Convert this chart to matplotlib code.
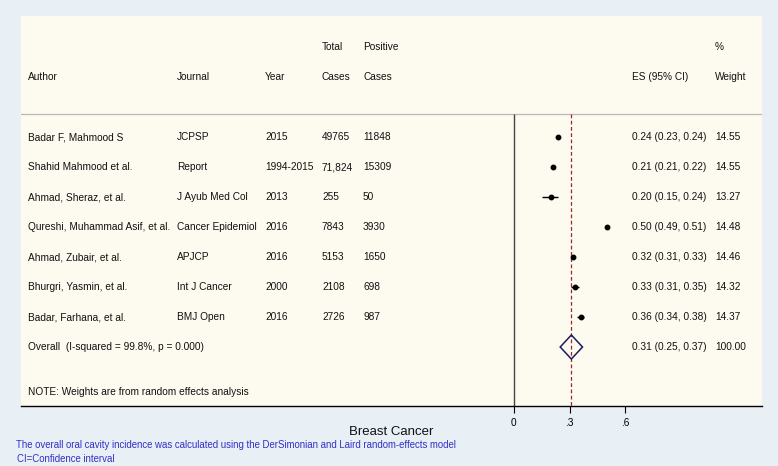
import matplotlib
matplotlib.use("Agg")
import matplotlib.pyplot as plt
from matplotlib.transforms import blended_transform_factory

plt.rcParams['font.family'] = ['Liberation Sans', 'DejaVu Sans']

authors = ["Badar F, Mahmood S", "Shahid Mahmood et al.", "Ahmad, Sheraz, et al.",
           "Qureshi, Muhammad Asif, et al.", "Ahmad, Zubair, et al.",
           "Bhurgri, Yasmin, et al.", "Badar, Farhana, et al."]
journals = ["JCPSP", "Report", "J Ayub Med Col", "Cancer Epidemiol", "APJCP",
            "Int J Cancer", "BMJ Open"]
years = ["2015", "1994-2015", "2013", "2016", "2016", "2000", "2016"]
total_cases = ["49765", "71,824", "255", "7843", "5153", "2108", "2726"]
positive_cases = ["11848", "15309", "50", "3930", "1650", "698", "987"]
es = [0.24, 0.21, 0.20, 0.50, 0.32, 0.33, 0.36]
ci_lo = [0.23, 0.21, 0.15, 0.49, 0.31, 0.31, 0.34]
ci_hi = [0.24, 0.22, 0.24, 0.51, 0.33, 0.35, 0.38]
weights = ["14.55", "14.55", "13.27", "14.48", "14.46", "14.32", "14.37"]
overall_es, overall_lo, overall_hi = 0.31, 0.25, 0.37
overall_label = "Overall  (I-squared = 99.8%, p = 0.000)"
xticks = [0, 0.3, 0.6]
xticklabels = ["0", ".3", ".6"]

W, H = 778, 466
fig = plt.figure(figsize=(W / 100, H / 100), dpi=100)
fig.patch.set_facecolor('#e8eff5')

# panel in pixels
pl, pr, pt, pb = 21, 762, 16, 406
ax = fig.add_axes([pl / W, (H - pb) / H, (pr - pl) / W, (pb - pt) / H])
ax.set_facecolor('#fdfaef')

zero_px, ppu = 513.7, 186.0
ax.set_xlim((pl - zero_px) / ppu, (pr - zero_px) / ppu)
row0_px, row_h = 137.0, 30.0
ax.set_ylim((pb - row0_px) / row_h, (pt - row0_px) / row_h)

for s in ['top', 'right', 'left']:
    ax.spines[s].set_visible(False)
ax.spines['bottom'].set_color('black')
ax.spines['bottom'].set_linewidth(1.0)
ax.set_yticks([])
ax.set_xticks(xticks)
ax.set_xticklabels(xticklabels)
ax.tick_params(axis='x', direction='out', length=5, width=0.8, pad=4,
               labelsize=7.3, colors='black')

sep = (114 - row0_px) / row_h
ybot = ax.get_ylim()[0]
ax.axhline(sep, color='#b8b8b8', lw=0.9)
ax.vlines(0, sep, ybot, color='#444444', lw=1.0)
ax.vlines(overall_es, sep, ybot, color='#9a2a2a', lw=0.9, linestyles=(0, (3, 2)))

rows = list(range(len(es)))
xerr = [[e - l for e, l in zip(es, ci_lo)], [h - e for e, h in zip(es, ci_hi)]]
ax.errorbar(es, rows, xerr=xerr, fmt='o', color='black', ms=3.2, lw=1.0,
            capsize=0, elinewidth=1.0)

orow = len(es)
ax.fill([overall_lo, overall_es, overall_hi, overall_es],
        [orow, orow - 0.4, orow, orow + 0.4],
        facecolor='none', edgecolor='#1c1c5c', lw=1.1, zorder=3)

tr = blended_transform_factory(fig.transFigure, ax.transData)
fs = 7.3
col_px = {'author': 28, 'journal': 177, 'year': 265, 'total': 322,
          'pos': 363, 'es': 632, 'w': 715}

def put(col, row, s):
    ax.text(col_px[col] / W, row, s, transform=tr, fontsize=fs,
            va='center', ha='left', color='#111111')

hdr1, hdr2 = (47 - row0_px) / row_h, (77 - row0_px) / row_h
put('total', hdr1, "Total")
put('pos', hdr1, "Positive")
put('w', hdr1, "%")
put('author', hdr2, "Author")
put('journal', hdr2, "Journal")
put('year', hdr2, "Year")
put('total', hdr2, "Cases")
put('pos', hdr2, "Cases")
put('es', hdr2, "ES (95% CI)")
put('w', hdr2, "Weight")

for i in rows:
    put('author', i, authors[i])
    put('journal', i, journals[i])
    put('year', i, years[i])
    put('total', i, total_cases[i])
    put('pos', i, positive_cases[i])
    put('es', i, f"{es[i]:.2f} ({ci_lo[i]:.2f}, {ci_hi[i]:.2f})")
    put('w', i, weights[i])

put('author', orow, overall_label)
put('es', orow, f"{overall_es:.2f} ({overall_lo:.2f}, {overall_hi:.2f})")
put('w', orow, "100.00")
put('author', (392 - row0_px) / row_h, "NOTE: Weights are from random effects analysis")

ax.set_xlabel("Breast Cancer", fontsize=9.5, labelpad=-2, color='#111111')

fig.text(16 / W, 1 - 445 / H,
         "The overall oral cavity incidence was calculated using the DerSimonian and Laird random-effects model",
         fontsize=6.9, color='#3030c8', va='center', ha='left')
fig.text(17 / W, 1 - 459 / H, "CI=Confidence interval",
         fontsize=6.9, color='#3030c8', va='center', ha='left')

fig.savefig("out.png", dpi=100, facecolor=fig.get_facecolor())
